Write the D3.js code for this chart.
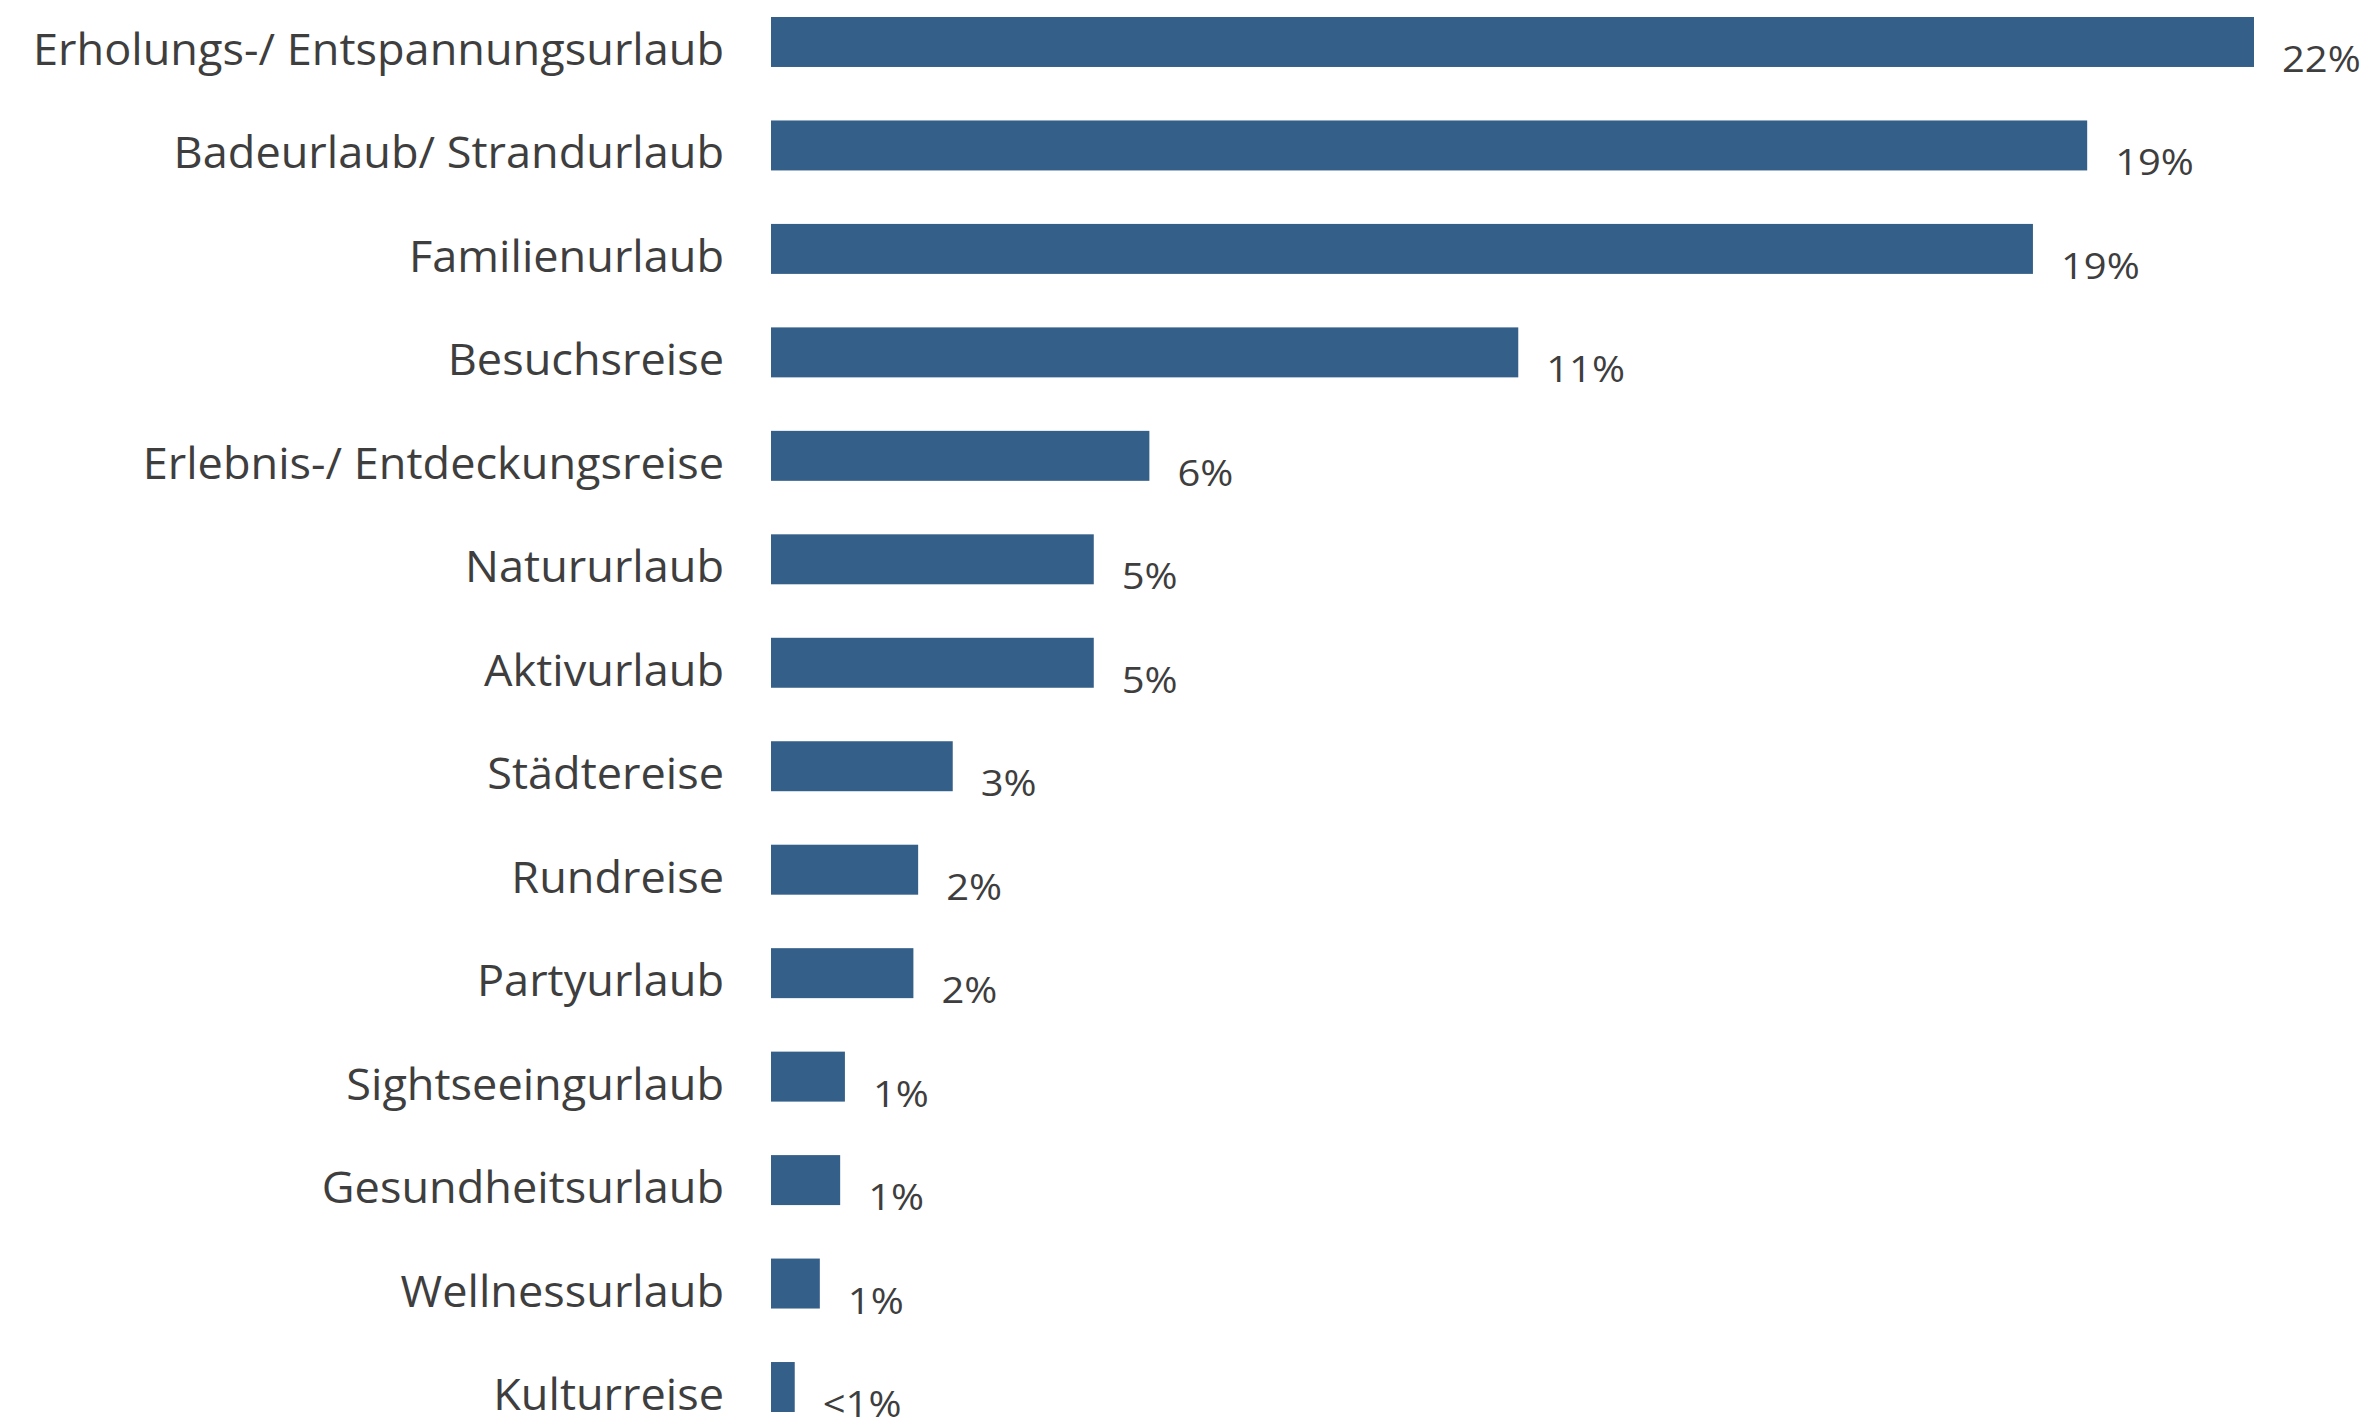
<!DOCTYPE html>
<html>
<head>
<meta charset="utf-8">
<script src="https://cdn.jsdelivr.net/npm/d3@7"></script>
<style>
  html, body { margin:0; padding:0; background:#ffffff; }
  svg { display:block; }
</style>
</head>
<body>
<script>
var width = 2372, height = 1417;

// categories, top to bottom
var categories = ["Erholungs-/ Entspannungsurlaub", "Badeurlaub/ Strandurlaub", "Familienurlaub",
                  "Besuchsreise", "Erlebnis-/ Entdeckungsreise", "Natururlaub", "Aktivurlaub",
                  "Städtereise", "Rundreise", "Partyurlaub", "Sightseeingurlaub",
                  "Gesundheitsurlaub", "Wellnessurlaub", "Kulturreise"];
// shares in percent
var values = [21.87, 19.41, 18.61, 11.02, 5.58, 4.76, 4.76, 2.68, 2.17, 2.10, 1.09, 1.02, 0.72, 0.35];
// printed labels
var valueLabels = ["22%", "19%", "19%", "11%", "6%", "5%", "5%", "3%", "2%", "2%", "1%", "1%", "1%", "<1%"];

var barColor = "#345f89";
var textColor = "#3e3e3e";

var svg = d3.select("body").append("svg")
            .attr("width", width)
            .attr("height", height);

var x = d3.scaleLinear()
          .domain([0, d3.max(values)])
          .range([771, 2254]);

var y = d3.scaleBand()
          .domain(categories)
          .range([17, 1412])
          .paddingInner(0.517)
          .paddingOuter(0);

// bars
svg.selectAll("rect.bar")
   .data(values)
   .enter().append("rect")
   .attr("class", "bar")
   .attr("x", x(0))
   .attr("y", function(d, i){ return y(categories[i]); })
   .attr("width", function(d){ return x(d) - x(0); })
   .attr("height", y.bandwidth())
   .style("fill", barColor);

// value labels (a bit wider than Open Sans, so stretch them)
svg.selectAll("text.val")
   .data(values)
   .enter().append("text")
   .attr("class", "val")
   .attr("transform", function(d, i){
       var tx = x(d) + 28;
       var ty = y(categories[i]) + y.bandwidth() + 5;
       return "translate(" + tx + "," + ty + ") scale(1.08,1)";
   })
   .style("font-family", "'Open Sans', sans-serif")
   .style("font-size", "37px")
   .style("fill", textColor)
   .text(function(d, i){ return valueLabels[i]; });

// category labels (condensed look: squeeze horizontally)
var labels = svg.selectAll("text.cat")
   .data(categories)
   .enter().append("text")
   .attr("class", "cat")
   .attr("text-anchor", "end")
   .style("font-family", "'Open Sans', sans-serif")
   .style("font-size", "44px")
   .style("fill", textColor)
   .text(function(d){ return d; });

var longest = labels.nodes()[0].getComputedTextLength();
var squeeze = 691 / longest;

labels.attr("transform", function(d){
    var ty = y(d) + y.bandwidth() / 2 + 23;
    return "translate(724," + ty + ") scale(" + squeeze + ",1)";
});
</script>
</body>
</html>
